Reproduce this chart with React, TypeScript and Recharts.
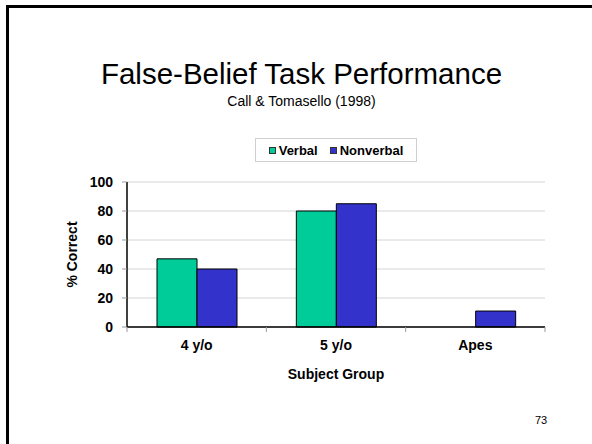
import React from 'react';
import { BarChart, Bar, XAxis, YAxis, CartesianGrid, Legend } from 'recharts';

const groups = ['4 y/o', '5 y/o', 'Apes'];
const verbal = [47, 80, 0];
const nonverbal = [40, 85, 11];
const yTicks = [0, 20, 40, 60, 80, 100];

const data = groups.map((group, i) => ({
  group,
  verbal: verbal[i],
  nonverbal: nonverbal[i],
}));

const FONT = '"Liberation Sans", Arial, sans-serif';
const GREEN = '#00CC99';
const BLUE = '#3333CC';

const GroupTick = (props: any) => {
  const { x, y, payload, index, visibleTicksCount } = props;
  const half = payload.offset || 0;
  const axisY = y - 13;
  return (
    <g>
      <line x1={x - half} x2={x - half} y1={axisY} y2={axisY + 5} stroke="#999" />
      {index === visibleTicksCount - 1 && (
        <line x1={x + half} x2={x + half} y1={axisY} y2={axisY + 5} stroke="#999" />
      )}
      <text
        x={x}
        y={y}
        dy="0.71em"
        textAnchor="middle"
        fill="#000"
        style={{ fontSize: 14, fontWeight: 'bold', fontFamily: FONT }}
      >
        {payload.value}
      </text>
    </g>
  );
};

const LegendBox = () => (
  <div
    style={{
      width: 160,
      height: 22,
      border: '1px solid #cfcfcf',
      display: 'flex',
      alignItems: 'center',
      justifyContent: 'center',
      gap: 12,
      fontFamily: FONT,
      fontSize: 13,
      fontWeight: 'bold',
      color: '#000',
    }}
  >
    {[
      { name: 'Verbal', color: GREEN },
      { name: 'Nonverbal', color: BLUE },
    ].map((item) => (
      <span key={item.name} style={{ display: 'flex', alignItems: 'center' }}>
        <span
          style={{
            width: 5,
            height: 5,
            background: item.color,
            border: '1px solid #333',
            marginRight: 3,
            display: 'inline-block',
          }}
        />
        {item.name}
      </span>
    ))}
  </div>
);

export default function App() {
  return (
    <div style={{ position: 'relative', width: 592, height: 444, overflow: 'hidden', background: '#fff' }}>
      <style>{'body{margin:0}'}</style>
      <div
        style={{
          position: 'absolute',
          left: 6,
          top: 5,
          width: 640,
          height: 480,
          borderLeft: '3px solid #000',
          borderTop: '3px solid #000',
        }}
      />
      <div
        style={{
          position: 'absolute',
          left: 0,
          top: 59,
          width: 603,
          textAlign: 'center',
          fontFamily: FONT,
          fontSize: 29.5,
          lineHeight: '29px',
          color: '#000',
        }}
      >
        False-Belief Task Performance
      </div>
      <div
        style={{
          position: 'absolute',
          left: 0,
          top: 94,
          width: 603,
          textAlign: 'center',
          fontFamily: FONT,
          fontSize: 14,
          lineHeight: '14px',
          color: '#000',
        }}
      >
        Call &amp; Tomasello (1998)
      </div>
      <div
        style={{
          position: 'absolute',
          left: 535,
          top: 415,
          fontFamily: FONT,
          fontSize: 11,
          lineHeight: '11px',
          color: '#000',
        }}
      >
        73
      </div>
      <div style={{ position: 'absolute', left: 0, top: 0 }}>
        <BarChart
          width={592}
          height={444}
          data={data}
          margin={{ top: 182, right: 47, bottom: 57, left: 67 }}
          barGap={0}
          barSize={40}
        >
          <CartesianGrid vertical={false} stroke="#d4d4d4" />
          <XAxis
            dataKey="group"
            height={60}
            axisLine={{ stroke: '#000', strokeWidth: 1.5 }}
            tickLine={false}
            tickSize={6}
            tickMargin={7}
            interval={0}
            tick={<GroupTick />}
            label={{
              value: 'Subject Group',
              position: 'insideBottom',
              offset: 8,
              style: { fontSize: 14, fontWeight: 'bold', fontFamily: FONT, fill: '#000' },
            }}
          />
          <YAxis
            width={60}
            domain={[0, 100]}
            ticks={yTicks}
            interval={0}
            axisLine={{ stroke: '#000', strokeWidth: 1.5 }}
            tickLine={{ stroke: '#999' }}
            tickSize={5}
            tickMargin={9}
            tick={{ fontSize: 14, fontWeight: 'bold', fontFamily: FONT, fill: '#000' }}
            label={{
              value: '% Correct',
              angle: -90,
              position: 'insideLeft',
              offset: 5,
              style: { textAnchor: 'middle', fontSize: 14, fontWeight: 'bold', fontFamily: FONT, fill: '#000' },
            }}
          />
          <Legend
            layout="horizontal"
            verticalAlign="middle"
            align="center"
            wrapperStyle={{ left: 255, top: 138, width: 162 }}
            content={<LegendBox />}
          />
          <Bar dataKey="verbal" name="Verbal" fill={GREEN} stroke="#000" strokeWidth={1} isAnimationActive={false} />
          <Bar dataKey="nonverbal" name="Nonverbal" fill={BLUE} stroke="#000" strokeWidth={1} isAnimationActive={false} />
        </BarChart>
      </div>
    </div>
  );
}
